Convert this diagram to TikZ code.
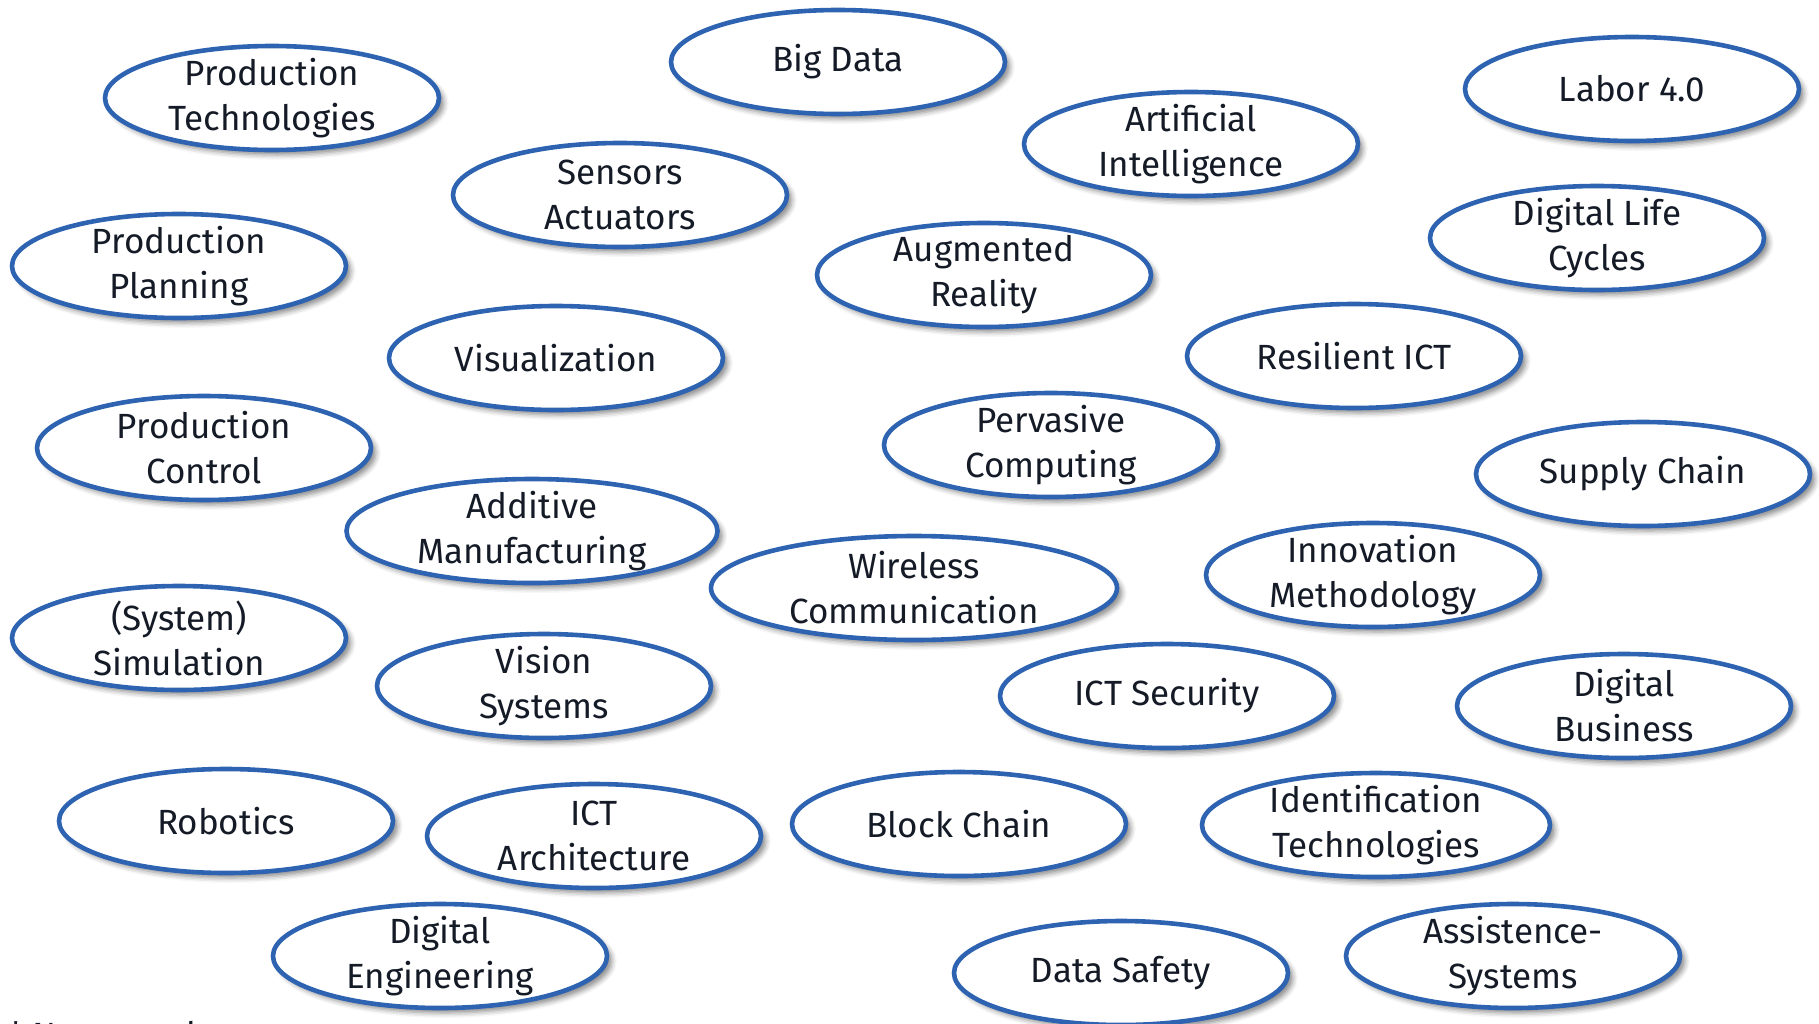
\documentclass[tikz,border=0pt]{standalone}
\usepackage{fontspec}
\setmainfont{Fira Sans}
\usetikzlibrary{shapes.geometric,shadows.blur}
\definecolor{bblue}{RGB}{46,99,178}
\definecolor{btext}{HTML}{141A26}
\tikzset{
  bubble/.style={ellipse, draw=bblue, line width=4.6pt, fill=white,
    minimum width=334pt, minimum height=104pt, inner sep=-30pt,
    align=center, text=btext, font=\fontsize{35}{45}\selectfont,
    blur shadow={shadow xshift=5pt, shadow yshift=-5pt, shadow blur radius=5pt, shadow opacity=45}},
  note/.style={anchor=base west, inner sep=0pt, text=btext, font=\fontsize{35}{45}\selectfont}
}
\begin{document}
\begin{tikzpicture}[x=1pt,y=-1pt]
\useasboundingbox (0,0) rectangle (1819,1023);
\clip (0,0) rectangle (1819,1023);
\node[bubble] (pt) at (272,98) {Production\\Technologies};
\node[bubble] (bd) at (838,62) {Big Data};
\node[bubble] (lab) at (1632,89) {Labor 4.0};
\node[bubble] (ai) at (1191,144) {Artificial\\Intelligence};
\node[bubble] (sa) at (620,195) {Sensors\\Actuators};
\node[bubble] (dlc) at (1597,238) {Digital Life\\Cycles};
\node[bubble] (pp) at (179,266) {Production\\Planning};
\node[bubble] (ar) at (984,275) {Augmented\\Reality};
\node[bubble] (vis) at (556,358) {Visualization};
\node[bubble] (ric) at (1354,356) {Resilient ICT};
\node[bubble] (pc) at (204,448) {Production\\Control};
\node[bubble] (pvc) at (1051,445) {Pervasive\\Computing};
\node[bubble] (sc) at (1643,474) {Supply Chain};
\node[bubble, minimum width=371pt] (am) at (532,531) {Additive\\Manufacturing};
\node[bubble, minimum width=406pt] (wc) at (914,588) {Wireless\\Communication};
\node[bubble] (im) at (1373,575) {Innovation\\Methodology};
\node[bubble] (sim) at (179,638) {(System)\\Simulation};
\node[bubble] (vs) at (544,686) {Vision\\Systems};
\node[bubble] (ics) at (1167,696) {ICT Security};
\node[bubble] (db) at (1624,706) {Digital\\Business};
\node[bubble] (rob) at (226,821) {Robotics};
\node[bubble] (ica) at (594,836) {ICT\\Architecture};
\node[bubble] (bc) at (959,824) {Block Chain};
\node[bubble, minimum width=348pt] (idt) at (1376,825) {Identification\\Technologies};
\node[bubble] (de) at (440,956) {Digital\\Engineering};
\node[bubble] (ds) at (1121,973) {Data Safety};
\node[bubble] (as) at (1513,956) {Assistence-\\Systems};
\node[note] (nc) at (8,1047) {* Not complete};
\end{tikzpicture}
\end{document}
